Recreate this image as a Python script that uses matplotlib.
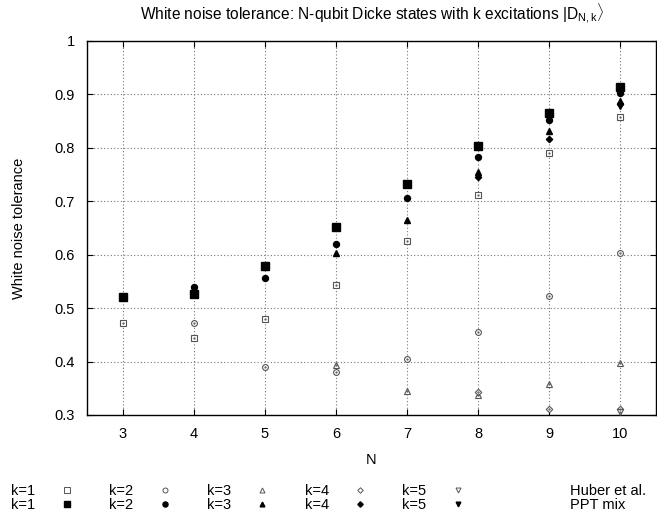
import matplotlib
matplotlib.use('Agg')
import matplotlib.pyplot as plt
from matplotlib.lines import Line2D

plt.rcParams['font.family'] = ['Liberation Sans', 'DejaVu Sans']
plt.rcParams['mathtext.fontset'] = 'custom'
plt.rcParams['mathtext.rm'] = 'Liberation Sans'
plt.rcParams['mathtext.it'] = 'Liberation Sans:italic'

# --- DATA ---
k_values = [1, 2, 3, 4, 5]
n_ticks = [3, 4, 5, 6, 7, 8, 9, 10]

# Huber et al. (open markers), per k: N values and tolerances
huber_n = {
    1: [3, 4, 5, 6, 7, 8, 9, 10],
    2: [4, 5, 6, 7, 8, 9, 10],
    3: [6, 7, 8, 9, 10],
    4: [8, 9, 10],
    5: [10],
}
huber_val = {
    1: [0.472, 0.445, 0.479, 0.543, 0.626, 0.712, 0.791, 0.857],
    2: [0.472, 0.390, 0.380, 0.404, 0.455, 0.523, 0.603],
    3: [0.394, 0.345, 0.337, 0.358, 0.398],
    4: [0.343, 0.311, 0.311],
    5: [0.306],
}

# PPT mix (filled markers)
ppt_n = huber_n
ppt_val = {
    1: [0.521, 0.526, 0.579, 0.652, 0.732, 0.804, 0.866, 0.913],
    2: [0.540, 0.557, 0.620, 0.706, 0.782, 0.853, 0.902],
    3: [0.604, 0.665, 0.754, 0.832, 0.888],
    4: [0.746, 0.817, 0.882],
    5: [0.878],
}

markers = {1: 's', 2: 'o', 3: '^', 4: 'D', 5: 'v'}
sizes_open = {1: 5, 2: 4.2, 3: 4.2, 4: 3.3, 5: 4.2}
sizes_fill = {1: 5.2, 2: 4.3, 3: 4, 4: 3.2, 5: 4}
gray = '#555555'

fig = plt.figure(figsize=(6.57, 5.19), dpi=100)
ax = fig.add_axes([87 / 657, 1 - 415 / 519, 569 / 657, 374 / 519])

open_handles, fill_handles = [], []
for k in k_values:
    ax.plot(huber_n[k], huber_val[k], linestyle='none', marker=markers[k],
            ms=sizes_open[k], mfc='white', mec=gray, mew=0.8, clip_on=False, zorder=3)
    ax.plot(huber_n[k], huber_val[k], linestyle='none', marker='.',
            ms=1.2, color=gray, clip_on=False, zorder=4)
    ax.plot(ppt_n[k], ppt_val[k], linestyle='none', marker=markers[k],
            ms=sizes_fill[k], color='black', clip_on=False, zorder=5)
    open_handles.append(Line2D([], [], linestyle='none', marker=markers[k],
                               ms=sizes_open[k] * 0.85, mfc='white', mec=gray, mew=0.7))
    fill_handles.append(Line2D([], [], linestyle='none', marker=markers[k],
                               ms=sizes_fill[k] * 0.85, color='black'))

ax.set_xlim(2.5, 10.5)
ax.set_ylim(0.3, 1.0)
ax.set_xticks(n_ticks)
ax.set_yticks([0.3, 0.4, 0.5, 0.6, 0.7, 0.8, 0.9, 1.0])
ax.set_yticklabels(['0.3', '0.4', '0.5', '0.6', '0.7', '0.8', '0.9', '1'])
ax.tick_params(direction='in', top=True, right=True, labelsize=10.5, length=4, pad=9)
ax.grid(True, linestyle=(0, (1, 2)), color='#777777', linewidth=0.8)
for s in ax.spines.values():
    s.set_linewidth(1.0)

ax.set_xlabel('N', fontsize=10.5, labelpad=8)
ax.set_ylabel('White noise tolerance', fontsize=10.5, labelpad=20)
ax.set_title(r'White noise tolerance: N-qubit Dicke states with k excitations $|\mathrm{D}_{\mathrm{N,k}}\rangle$',
             fontsize=11.2, pad=15)

labels = [f'k={k}' for k in k_values]
leg_kw = dict(ncol=5, markerfirst=False, frameon=False, fontsize=10.5,
              handlelength=1.5, handletextpad=1.4, columnspacing=2.15,
              borderpad=0, labelspacing=0)
fig.legend(open_handles, labels, loc='center left',
           bbox_to_anchor=(4 / 657, 1 - 491 / 519), **leg_kw)
fig.legend(fill_handles, labels, loc='center left',
           bbox_to_anchor=(4 / 657, 1 - 505 / 519), **leg_kw)
fig.text(570 / 657, 1 - 491 / 519, 'Huber et al.', fontsize=10.5, va='center')
fig.text(570 / 657, 1 - 505 / 519, 'PPT mix', fontsize=10.5, va='center')

fig.savefig('out.png', dpi=100)
